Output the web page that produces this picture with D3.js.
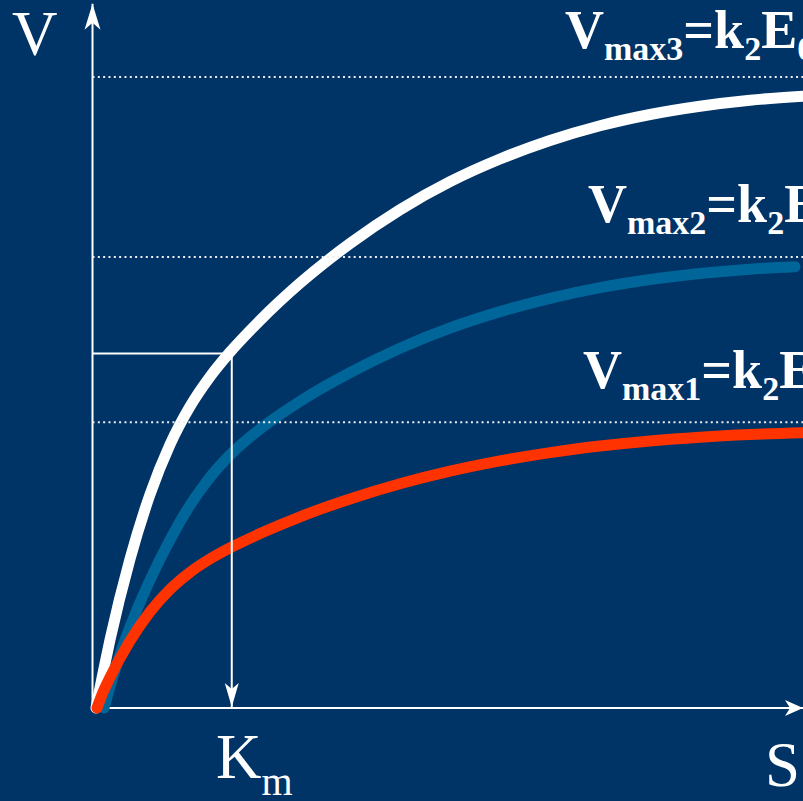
<!DOCTYPE html>
<html>
<head>
<meta charset="utf-8">
<script src="https://cdn.jsdelivr.net/npm/d3@7"></script>
<style>
  html, body { margin: 0; padding: 0; background: #003366; }
  svg { display: block; }
</style>
</head>
<body>
<svg id="chart" width="803" height="801"></svg>
<script>
// Michaelis–Menten saturation curves for three enzyme concentrations.
// S = substrate concentration, V = reaction rate (units: % of Vmax3).

const vmaxLevels = [45.28, 71.47, 100];     // Vmax1, Vmax2, Vmax3
const vmaxIndex  = ["1", "2", "3"];
const kmValue    = 19.6;                    // Km on the S axis
const vAtKm      = 56.18;                   // rate of the top curve at S = Km

// top curve (Vmax3)
const s3 = [0.49, 1.48, 2.46, 5.28, 8.09, 10.91, 13.72, 16.54, 19.35, 23.58, 29.20, 36.24, 43.28, 50.32, 57.35, 64.39, 71.43, 78.47, 85.50, 92.54, 100];
const v3 = [0, 5.55, 10.78, 23.61, 33.83, 41.76, 47.78, 52.50, 56.39, 61.43, 67.32, 73.61, 78.97, 83.41, 87.00, 89.94, 92.28, 94.06, 95.37, 96.32, 96.96];

// middle curve (Vmax2)
const s2 = [1.62, 2.74, 4.15, 6.12, 8.23, 10.49, 13.16, 16.12, 19.77, 23.58, 29.20, 36.24, 43.28, 50.32, 57.35, 64.39, 71.43, 78.47, 85.50, 92.54, 98.87];
const v2 = [0, 4.44, 9.43, 15.21, 20.60, 25.75, 31.14, 35.97, 40.57, 44.22, 48.61, 53.15, 57.02, 60.22, 62.82, 64.93, 66.62, 67.91, 68.86, 69.54, 69.92];

// bottom curve (Vmax1)
const s1 = [0.63, 1.48, 2.46, 5.28, 8.09, 10.91, 13.72, 16.54, 19.35, 23.58, 29.20, 36.24, 43.28, 50.32, 57.35, 64.39, 71.43, 78.47, 85.50, 92.54, 100];
const v1 = [0, 2.50, 4.85, 10.62, 15.23, 18.80, 21.51, 23.63, 25.37, 27.64, 30.30, 33.12, 35.53, 37.53, 39.16, 40.48, 41.52, 42.33, 42.92, 43.34, 43.63];

const sMax = 100, vTop = 111.6;

const svg = d3.select("#chart");
const W = 803, H = 801;

const x = d3.scaleLinear().domain([0, sMax]).range([92.5, 803]);
const y = d3.scaleLinear().domain([0, 100]).range([708, 77]);

svg.append("rect").attr("width", W).attr("height", H).attr("fill", "#003366");

// arrowheads
const defs = svg.append("defs");
function arrow(id, len, half, notch) {
  defs.append("marker")
    .attr("id", id)
    .attr("markerUnits", "userSpaceOnUse")
    .attr("viewBox", `${-len - 1} ${-half - 1} ${len + 2} ${2 * half + 2}`)
    .attr("refX", 0).attr("refY", 0)
    .attr("markerWidth", len + 2).attr("markerHeight", 2 * half + 2)
    .attr("orient", "auto")
    .append("path")
    .attr("d", `M0,0 L${-len},${-half} L${-len + notch},0 L${-len},${half} Z`)
    .attr("fill", "#ffffff");
}
arrow("axisArrow", 26, 8, 7);
arrow("xArrow", 18, 8, 5);
arrow("kmArrow", 24, 7, 6);

// axes
svg.append("line")
  .attr("x1", x(0)).attr("y1", y(0)).attr("x2", x(0)).attr("y2", y(vTop))
  .attr("stroke", "#ffffff").attr("stroke-width", 2)
  .attr("marker-end", "url(#axisArrow)");
svg.append("line")
  .attr("x1", x(0)).attr("y1", y(0)).attr("x2", x(sMax)).attr("y2", y(0))
  .attr("stroke", "#ffffff").attr("stroke-width", 2)
  .attr("marker-end", "url(#xArrow)");

// curves
const line = d3.line()
  .x(d => x(d[0]))
  .y(d => y(d[1]))
  .curve(d3.curveMonotoneX);

const curves = [
  { s: s3, v: v3, color: "#ffffff" },
  { s: s2, v: v2, color: "#006699" },
  { s: s1, v: v1, color: "#ff3300" }
];

svg.selectAll("path.curve")
  .data(curves)
  .join("path")
  .attr("class", "curve")
  .attr("d", c => line(d3.zip(c.s, c.v)))
  .attr("fill", "none")
  .attr("stroke", c => c.color)
  .attr("stroke-width", 11)
  .attr("stroke-linecap", "round")
  .attr("stroke-linejoin", "round");

// Km construction lines
svg.append("line")
  .attr("x1", x(0)).attr("y1", y(vAtKm)).attr("x2", x(kmValue)).attr("y2", y(vAtKm))
  .attr("stroke", "#ffffff").attr("stroke-width", 2);
svg.append("line")
  .attr("x1", x(kmValue)).attr("y1", y(vAtKm)).attr("x2", x(kmValue)).attr("y2", y(0) - 1)
  .attr("stroke", "#ffffff").attr("stroke-width", 2)
  .attr("marker-end", "url(#kmArrow)");

// Vmax reference lines
svg.selectAll("line.vmax")
  .data(vmaxLevels)
  .join("line")
  .attr("class", "vmax")
  .attr("x1", x(0)).attr("x2", x(sMax))
  .attr("y1", d => y(d)).attr("y2", d => y(d))
  .attr("stroke", "#eeeeee")
  .attr("stroke-width", 2)
  .attr("stroke-dasharray", "2 3.33");

// Vmax labels
const serif = "'Liberation Serif', 'Times New Roman', serif";
const labelPos = [
  { x: 583, y: 388 },
  { x: 588, y: 222 },
  { x: 565, y: 48 }
];
vmaxLevels.forEach((v, i) => {
  const t = svg.append("text")
    .attr("x", labelPos[i].x).attr("y", labelPos[i].y)
    .attr("fill", "#ffffff")
    .attr("font-family", serif)
    .attr("font-weight", "bold")
    .attr("font-size", 54);
  t.append("tspan").text("V");
  t.append("tspan").attr("font-size", 34).attr("dy", 12).text("max" + vmaxIndex[i]);
  t.append("tspan").attr("font-size", 54).attr("dy", -12).text("=k");
  t.append("tspan").attr("font-size", 34).attr("dy", 12).text("2");
  t.append("tspan").attr("font-size", 54).attr("dy", -12).text("E");
  t.append("tspan").attr("font-size", 34).attr("dy", 12).text("0");
});

// axis titles
svg.append("text")
  .attr("x", 12).attr("y", 55)
  .attr("fill", "#ffffff").attr("font-family", serif).attr("font-size", 63)
  .text("V");
svg.append("text")
  .attr("x", 765).attr("y", 786)
  .attr("fill", "#ffffff").attr("font-family", serif).attr("font-size", 63)
  .text("S");
const km = svg.append("text")
  .attr("x", 216).attr("y", 778)
  .attr("fill", "#ffffff").attr("font-family", serif).attr("font-size", 63);
km.append("tspan").text("K");
km.append("tspan").attr("font-size", 40).attr("dy", 17).text("m");
</script>
</body>
</html>
